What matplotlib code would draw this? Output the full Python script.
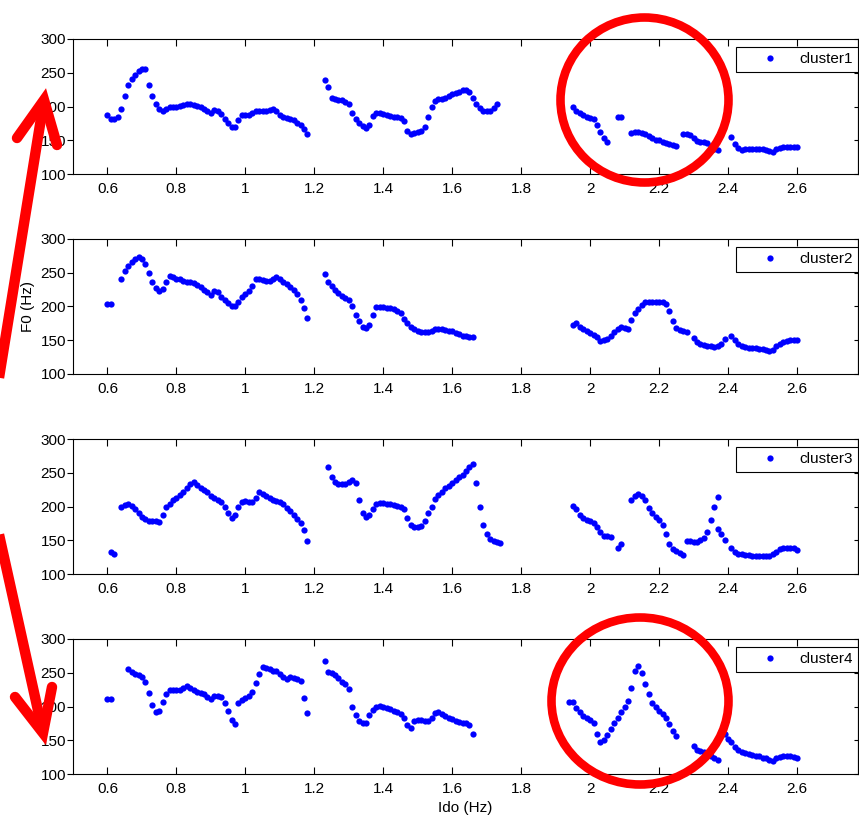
import numpy as np
import matplotlib
matplotlib.use('Agg')
import matplotlib.pyplot as plt
from matplotlib.patches import Ellipse

plt.rcParams['font.family'] = ['Liberation Sans', 'DejaVu Sans']
plt.rcParams['font.size'] = 11

# F0 frames, one every 10 ms; each segment = (start time, values)
step = 0.01
names = ['cluster1', 'cluster2', 'cluster3', 'cluster4']

c1_starts = [0.60, 1.23, 1.95, 2.08, 2.12, 2.27, 2.41]
c1_y = [
    [187, 182, 182, 185, 196, 216, 232, 241, 247, 252, 255, 255, 232, 216, 203, 197, 193, 197, 199, 200,
     200, 201, 202, 203, 203, 202, 201, 199, 196, 193, 190, 195, 193, 189, 182, 175, 169, 170, 180, 187,
     187, 188, 190, 194, 193, 193, 194, 195, 196, 193, 188, 185, 183, 182, 180, 176, 172, 166, 159],
    [239, 229, 213, 211, 210, 209, 207, 204, 190, 182, 176, 171, 168, 173, 186, 190, 190, 189, 187, 186,
     185, 184, 183, 179, 163, 160, 161, 162, 163, 170, 185, 200, 208, 211, 211, 213, 215, 218, 220, 222,
     224, 225, 221, 212, 203, 198, 194, 193, 194, 198, 204],
    [199, 193, 190, 187, 185, 183, 181, 172, 162, 153, 148],
    [184, 184],
    [161, 162, 162, 161, 159, 156, 153, 151, 150, 148, 146, 145, 143, 141],
    [159, 159, 158, 153, 149, 148, 147, 146, 141, 137, 136],
    [155, 145, 138, 136, 137, 137, 137, 137, 137, 137, 136, 134, 133, 137, 139, 140, 140, 140, 140, 140],
]

c2_starts = [0.60, 0.64, 1.23, 1.95, 2.30, 2.41]
c2_y = [
    [203, 203],
    [241, 252, 260, 266, 271, 273, 270, 263, 250, 236, 227, 223, 226, 236, 245, 244, 241, 240, 238, 237,
     237, 235, 232, 229, 225, 221, 217, 223, 221, 214, 210, 205, 200, 200, 207, 214, 219, 223, 230, 240,
     240, 239, 238, 238, 241, 244, 240, 236, 233, 229, 224, 218, 210, 198, 183],
    [248, 237, 230, 225, 220, 215, 212, 209, 200, 187, 178, 170, 168, 172, 188, 199, 199, 199, 198, 198,
     196, 193, 190, 182, 175, 170, 166, 164, 162, 162, 162, 163, 166, 167, 166, 165, 164, 163, 161, 159,
     157, 156, 155, 155],
    [173, 176, 170, 166, 164, 161, 158, 155, 149, 150, 152, 157, 162, 167, 170, 168, 166, 180, 190, 196,
     202, 206, 207, 207, 207, 207, 207, 203, 193, 178, 168, 165, 163, 162],
    [154, 148, 145, 143, 142, 141, 140, 141, 145, 152],
    [156, 150, 145, 142, 140, 139, 139, 138, 137, 137, 136, 134, 135, 141, 145, 147, 149, 150, 150, 151],
]

c3_starts = [0.61, 0.64, 1.24, 1.95, 2.08, 2.12, 2.28, 2.37, 2.41]
c3_y = [
    [133, 130],
    [200, 202, 204, 201, 196, 190, 184, 181, 179, 178, 178, 177, 188, 200, 204, 209, 213, 217, 222, 228,
     234, 236, 232, 228, 225, 221, 216, 212, 210, 206, 200, 191, 183, 188, 200, 206, 208, 207, 207, 213,
     221, 219, 216, 213, 210, 208, 207, 204, 198, 193, 187, 181, 175, 165, 149],
    [259, 244, 237, 234, 233, 234, 237, 240, 235, 210, 191, 185, 188, 196, 204, 205, 205, 204, 203, 202,
     201, 199, 196, 183, 173, 170, 170, 171, 178, 190, 200, 211, 217, 222, 227, 231, 235, 239, 243, 247,
     252, 258, 263, 235, 200, 172, 159, 152, 149, 147, 146],
    [201, 197, 188, 183, 180, 178, 175, 170, 162, 156, 156, 155],
    [138, 144],
    [209, 215, 218, 215, 209, 198, 190, 184, 180, 173, 160, 144, 137, 134, 131, 128],
    [149, 149, 148, 147, 150, 153, 162, 180, 200, 214],
    [167, 159, 150],
    [138, 133, 130, 129, 128, 128, 127, 127, 127, 127, 127, 127, 129, 133, 137, 139, 139, 139, 138, 136],
]

c4_starts = [0.60, 0.66, 0.98, 1.23, 1.94, 2.30, 2.39]
c4_y = [
    [211, 211],
    [255, 251, 248, 246, 243, 236, 220, 202, 192, 193, 206, 219, 225, 225, 225, 225, 227, 230, 228, 225,
     222, 220, 219, 214, 211, 216, 216, 214, 205, 194, 180, 174],
    [205, 209, 212, 216, 222, 235, 248, 258, 257, 255, 253, 252, 248, 243, 241, 243, 242, 241, 238, 212,
     190],
    [267, 251, 250, 247, 242, 237, 233, 226, 200, 187, 179, 176, 175, 187, 195, 200, 201, 199, 198, 196,
     194, 192, 189, 183, 172, 168, 179, 180, 180, 179, 178, 183, 190, 192, 189, 186, 183, 181, 179, 177,
     176, 175, 173, 160],
    [206, 207, 198, 192, 186, 183, 180, 176, 160, 148, 150, 158, 166, 175, 183, 192, 199, 208, 228, 252,
     260, 250, 233, 218, 205, 199, 194, 189, 183, 174, 164, 157],
    [141, 136, 134, 132, 129, 126, 123, 121],
    [159, 152, 147, 140, 136, 133, 131, 129, 128, 127, 126, 124, 123, 121, 120, 124, 125, 126, 127, 126,
     125, 124],
]

xticks = [0.6, 0.8, 1.0, 1.2, 1.4, 1.6, 1.8, 2.0, 2.2, 2.4, 2.6]
xtick_labels = ['0.6', '0.8', '1', '1.2', '1.4', '1.6', '1.8', '2', '2.2', '2.4', '2.6']
yticks = [100, 150, 200, 250, 300]

W, H = 859, 816
fig = plt.figure(figsize=(W / 100, H / 100), dpi=100)


def px_box(l, t, r, b):
    return [l / W, 1 - b / H, (r - l) / W, (b - t) / H]


tops = [39, 239, 439, 639]
all_starts = [c1_starts, c2_starts, c3_starts, c4_starts]
all_y = [c1_y, c2_y, c3_y, c4_y]
axes = []
for top, name, starts, segs in zip(tops, names, all_starts, all_y):
    ax = fig.add_axes(px_box(73, top, 858, top + 135))
    xs, ys = [], []
    for s, yy in zip(starts, segs):
        xs.extend(s + step * np.arange(len(yy)))
        ys.extend(yy)
    ax.plot(xs, ys, ls='none', marker='o', ms=4.5, mew=0, color=(0, 0, 1), label=name)
    ax.set_xlim(0.5, 2.777)
    ax.set_ylim(100, 300)
    ax.set_xticks(xticks)
    ax.set_xticklabels(xtick_labels)
    ax.set_yticks(yticks)
    ax.tick_params(axis='x', direction='in', length=5, width=0.8, top=True, bottom=True, pad=6)
    ax.tick_params(axis='y', direction='out', length=4, width=0.8, pad=1)
    sec = ax.secondary_yaxis('right')
    sec.set_yticks(yticks)
    sec.tick_params(direction='in', length=3, width=0.8, labelright=False)
    for sp in ax.spines.values():
        sp.set_linewidth(0.8)
    leg = ax.legend(loc='upper right', bbox_to_anchor=(1, 1 - 8 / 135), borderaxespad=0,
                    numpoints=1, handlelength=3.8, handletextpad=0.0, borderpad=0.35,
                    fancybox=False, edgecolor='black', framealpha=1)
    leg.get_frame().set_linewidth(0.8)
    axes.append(ax)

axes[1].set_ylabel('F0 (Hz)')
axes[1].yaxis.set_label_coords((35 - 73) / 785, 0.5)
axes[3].set_xlabel('Ido (Hz)')
axes[3].xaxis.set_label_coords(0.5, -(802 - 775) / 135)

# red hand-drawn marks, in pixel coordinates
ov = fig.add_axes([0, 0, 1, 1])
ov.set_xlim(0, W)
ov.set_ylim(H, 0)
ov.axis('off')
red = (1, 0, 0)
lw = 6.2
ov.add_patch(Ellipse((644.5, 100), 2 * 84, 2 * 82.5, fill=False, ec=red, lw=lw))
ov.add_patch(Ellipse((640, 701), 2 * 88.5, 2 * 83.5, fill=False, ec=red, lw=lw))
ov.plot([-8, 44], [421, 100], color=red, lw=7.5, solid_capstyle='butt')
ov.plot([17, 44, 57], [138, 100, 145], color=red, lw=7.5, solid_capstyle='round', solid_joinstyle='miter')
ov.plot([-8, 43], [503, 733], color=red, lw=7.5, solid_capstyle='butt')
ov.plot([15, 43, 52], [697, 733, 687], color=red, lw=7.5, solid_capstyle='round', solid_joinstyle='miter')

fig.savefig('out.png', dpi=100)
